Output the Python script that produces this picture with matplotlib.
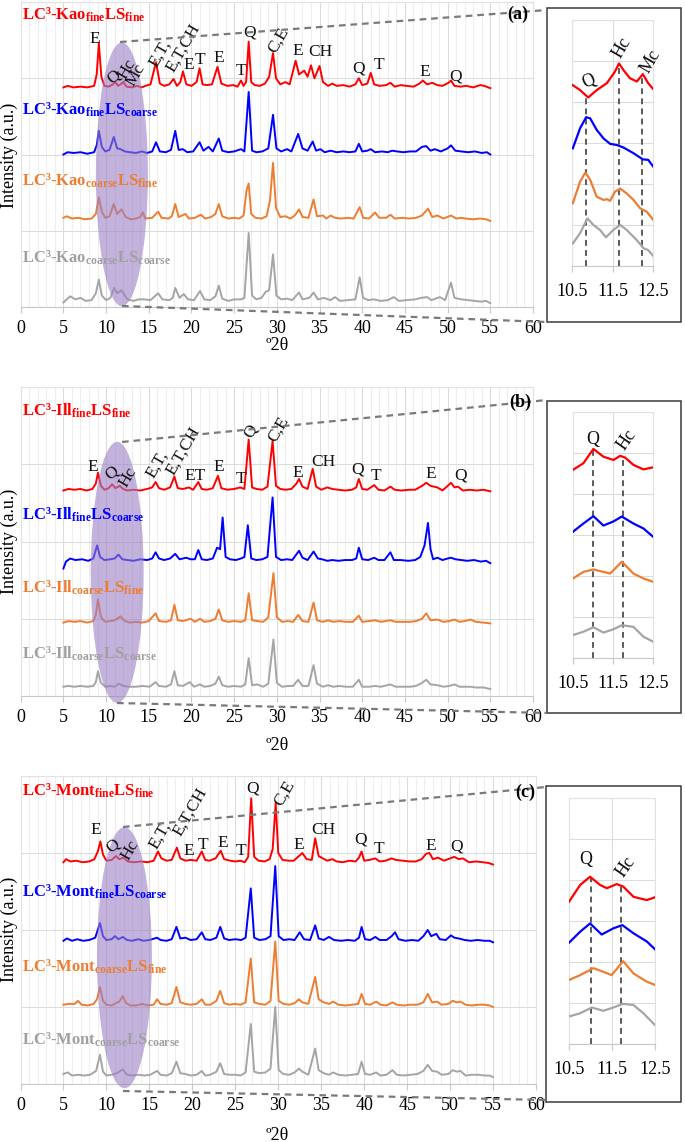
import numpy as np
import matplotlib
matplotlib.use("Agg")
import matplotlib.pyplot as plt
from matplotlib.patches import Ellipse, Rectangle
from matplotlib.lines import Line2D

plt.rcParams['font.family'] = ['Liberation Serif', 'DejaVu Serif']
plt.rcParams['mathtext.fontset'] = 'custom'
plt.rcParams['mathtext.rm'] = 'Liberation Serif'
plt.rcParams['mathtext.bf'] = 'Liberation Serif:bold'
plt.rcParams['mathtext.it'] = 'Liberation Serif:italic'

# ---------------- DATA ----------------
# Main XRD patterns: (2theta, offset intensity) vertices
kao_fine_fine = [(5.0,2.88),(5.5,2.90),(6.2,2.88),(7.0,2.89),(7.8,2.88),(8.6,2.90),(8.9,3.05),(9.15,3.46),(9.45,3.02),(9.8,2.90),(10.3,2.89),(10.8,2.92),(11.1,2.95),(11.4,2.90),(11.7,2.92),(12.0,2.95),(12.4,2.89),(13.0,2.88),(13.6,2.90),(14.2,2.88),(14.6,2.90),(15.2,2.92),(15.85,3.21),(16.3,2.93),(16.8,2.90),(17.4,2.92),(17.9,2.99),(18.3,2.90),(18.7,2.95),(19.0,3.09),(19.4,2.92),(20.0,2.90),(20.6,2.95),(20.95,3.13),(21.3,2.92),(21.8,2.91),(22.4,2.92),(23.05,3.15),(23.5,2.93),(24.2,2.90),(24.9,2.91),(25.4,2.89),(25.8,2.97),(26.1,2.90),(26.4,2.95),(26.7,3.48),(27.0,2.95),(27.4,2.91),(28.0,2.90),(28.6,2.93),(29.1,3.02),(29.55,3.33),(29.9,3.00),(30.4,2.92),(31.0,2.95),(31.5,2.92),(32.2,3.23),(32.6,3.05),(33.2,3.10),(33.6,3.02),(34.0,3.17),(34.4,3.00),(35.0,3.16),(35.4,2.95),(36.0,2.90),(36.5,2.93),(37.0,2.90),(37.8,2.91),(38.5,2.89),(39.2,2.92),(39.6,3.00),(40.0,2.91),(40.6,2.93),(41.0,3.07),(41.4,2.92),(42.0,2.90),(42.8,2.91),(43.3,2.94),(43.8,2.89),(44.5,2.91),(45.2,2.90),(46.0,2.89),(46.7,2.93),(47.1,2.97),(47.6,2.92),(48.2,2.94),(48.8,2.91),(49.4,2.90),(50.1,2.94),(50.4,2.97),(50.8,2.90),(51.5,2.89),(52.2,2.90),(53.0,2.88),(53.8,2.91),(54.3,2.90),(55.0,2.87)]
kao_fine_coarse = [(5.0,2.00),(5.5,2.03),(6.2,2.02),(7.0,2.03),(7.8,2.01),(8.6,2.03),(8.9,2.12),(9.15,2.31),(9.5,2.10),(9.9,2.04),(10.4,2.06),(10.9,2.23),(11.3,2.08),(11.7,2.07),(12.2,2.04),(12.8,2.03),(13.5,2.02),(14.2,2.04),(14.8,2.02),(15.4,2.04),(15.85,2.16),(16.3,2.04),(17.0,2.03),(17.6,2.06),(18.1,2.31),(18.5,2.06),(19.0,2.07),(19.5,2.03),(20.2,2.04),(20.95,2.16),(21.4,2.05),(22.0,2.10),(22.5,2.04),(23.2,2.21),(23.6,2.05),(24.3,2.03),(25.0,2.04),(25.8,2.07),(26.2,2.04),(26.7,2.82),(27.1,2.05),(27.6,2.03),(28.3,2.04),(29.0,2.08),(29.55,2.52),(29.95,2.08),(30.5,2.04),(31.2,2.07),(31.7,2.04),(32.5,2.27),(33.0,2.08),(33.6,2.05),(34.2,2.17),(34.6,2.05),(35.1,2.07),(35.6,2.03),(36.3,2.05),(37.0,2.03),(37.8,2.04),(38.5,2.03),(39.2,2.04),(39.6,2.14),(40.0,2.04),(40.6,2.05),(41.0,2.07),(41.5,2.03),(42.3,2.04),(43.0,2.03),(43.5,2.05),(44.1,2.04),(44.8,2.03),(45.6,2.04),(46.3,2.04),(47.0,2.10),(47.5,2.11),(48.0,2.05),(48.5,2.07),(49.2,2.04),(50.0,2.08),(50.4,2.12),(50.9,2.05),(51.6,2.04),(52.4,2.03),(53.2,2.04),(54.0,2.02),(54.6,2.03),(55.0,2.00)]
kao_coarse_fine = [(5.0,1.17),(5.4,1.19),(6.0,1.16),(6.8,1.17),(7.5,1.15),(8.3,1.16),(8.8,1.22),(9.15,1.44),(9.5,1.25),(9.9,1.17),(10.4,1.19),(10.9,1.35),(11.3,1.22),(11.8,1.28),(12.3,1.18),(12.9,1.15),(13.5,1.16),(14.0,1.18),(14.3,1.24),(14.6,1.16),(15.4,1.17),(16.1,1.25),(16.5,1.17),(17.3,1.16),(17.7,1.19),(18.1,1.35),(18.5,1.18),(19.3,1.22),(19.7,1.16),(20.4,1.17),(21.1,1.21),(21.6,1.16),(22.3,1.18),(22.8,1.22),(23.2,1.35),(23.6,1.19),(24.3,1.16),(25.0,1.17),(25.6,1.16),(26.1,1.20),(26.45,1.53),(26.7,1.62),(27.0,1.22),(27.5,1.17),(28.2,1.16),(28.8,1.19),(29.2,1.40),(29.55,1.89),(29.9,1.30),(30.4,1.18),(31.0,1.19),(31.6,1.16),(32.1,1.20),(32.6,1.28),(33.0,1.18),(33.7,1.17),(34.3,1.41),(34.7,1.19),(35.4,1.20),(35.8,1.16),(36.3,1.20),(36.8,1.17),(37.5,1.16),(38.3,1.17),(39.0,1.16),(39.7,1.31),(40.1,1.17),(40.8,1.16),(41.5,1.24),(42.0,1.17),(42.8,1.17),(43.3,1.21),(43.8,1.16),(44.7,1.17),(45.5,1.16),(46.3,1.17),(47.0,1.20),(47.7,1.29),(48.2,1.18),(48.8,1.20),(49.5,1.16),(50.4,1.20),(51.0,1.16),(51.6,1.17),(52.1,1.16),(53.0,1.15),(53.8,1.16),(54.5,1.15),(55.0,1.13)]
kao_coarse_coarse = [(5.0,0.06),(5.4,0.10),(5.8,0.14),(6.4,0.10),(7.0,0.12),(7.6,0.08),(8.3,0.09),(8.8,0.18),(9.15,0.36),(9.5,0.15),(10.0,0.09),(10.5,0.12),(10.95,0.25),(11.3,0.18),(11.8,0.22),(12.5,0.10),(13.2,0.08),(13.8,0.10),(14.5,0.10),(15.2,0.09),(16.1,0.18),(16.6,0.10),(17.4,0.09),(17.8,0.12),(18.1,0.25),(18.6,0.12),(19.1,0.17),(19.6,0.10),(20.3,0.09),(21.0,0.21),(21.5,0.10),(22.2,0.09),(22.8,0.14),(23.2,0.28),(23.6,0.11),(24.3,0.08),(25.0,0.10),(25.8,0.10),(26.2,0.12),(26.7,0.97),(27.1,0.15),(27.6,0.10),(28.2,0.12),(28.7,0.20),(29.1,0.22),(29.55,0.69),(29.95,0.15),(30.5,0.10),(31.2,0.11),(31.8,0.09),(32.6,0.19),(33.0,0.10),(33.8,0.12),(34.3,0.19),(34.8,0.10),(35.5,0.12),(36.3,0.09),(36.8,0.13),(37.4,0.08),(38.3,0.09),(39.2,0.10),(39.7,0.39),(40.1,0.12),(40.7,0.09),(41.3,0.10),(42.2,0.08),(43.0,0.09),(43.7,0.13),(44.3,0.08),(45.2,0.09),(46.2,0.10),(46.9,0.12),(47.6,0.13),(48.1,0.09),(49.1,0.13),(49.7,0.09),(50.4,0.32),(50.8,0.12),(51.6,0.10),(52.4,0.09),(53.2,0.08),(53.9,0.07),(54.5,0.08),(55.0,0.05)]

ill_fine_fine = [(5.0,2.66),(5.6,2.68),(6.3,2.67),(7.0,2.68),(7.7,2.66),(8.4,2.68),(8.8,2.75),(9.05,2.89),(9.4,2.72),(9.8,2.67),(10.3,2.69),(10.7,2.74),(11.1,2.69),(11.6,2.72),(12.0,2.68),(12.5,2.66),(13.2,2.67),(14.0,2.66),(14.8,2.68),(15.4,2.70),(15.8,2.77),(16.2,2.69),(16.8,2.67),(17.5,2.70),(18.0,2.84),(18.4,2.69),(19.0,2.68),(19.7,2.70),(20.2,2.67),(20.8,2.77),(21.2,2.68),(21.8,2.67),(22.5,2.69),(23.1,2.85),(23.5,2.69),(24.2,2.67),(25.0,2.68),(25.7,2.70),(26.2,2.68),(26.7,3.32),(27.1,2.70),(27.6,2.68),(28.3,2.67),(28.9,2.71),(29.5,3.30),(29.9,2.72),(30.4,2.68),(31.0,2.67),(31.7,2.68),(32.3,2.75),(32.6,2.81),(33.0,2.71),(33.6,2.68),(34.2,2.94),(34.6,2.71),(35.2,2.67),(35.9,2.70),(36.5,2.68),(37.2,2.67),(38.0,2.66),(38.8,2.67),(39.3,2.70),(39.6,2.81),(40.0,2.68),(40.6,2.67),(41.4,2.73),(41.9,2.67),(42.6,2.66),(43.3,2.71),(43.8,2.67),(44.6,2.66),(45.5,2.67),(46.2,2.67),(47.0,2.72),(47.5,2.76),(48.0,2.72),(48.8,2.70),(49.4,2.66),(50.0,2.72),(50.4,2.76),(50.8,2.70),(51.2,2.71),(51.8,2.66),(52.6,2.67),(53.4,2.66),(54.2,2.67),(55.0,2.65)]
ill_fine_coarse = [(5.0,1.65),(5.3,1.74),(5.8,1.78),(6.4,1.76),(7.2,1.77),(7.9,1.75),(8.5,1.78),(8.95,1.95),(9.3,1.80),(9.8,1.76),(10.5,1.77),(11.0,1.78),(11.45,1.83),(11.9,1.77),(12.5,1.76),(13.2,1.75),(14.0,1.77),(14.8,1.76),(15.4,1.78),(15.8,1.86),(16.2,1.78),(16.8,1.76),(17.5,1.78),(18.1,1.84),(18.6,1.77),(19.4,1.79),(19.9,1.77),(20.4,1.77),(20.8,1.89),(21.2,1.77),(21.8,1.76),(22.5,1.78),(23.0,1.92),(23.35,1.90),(23.65,2.31),(24.0,1.80),(24.5,1.77),(25.2,1.76),(25.8,1.78),(26.2,1.80),(26.6,2.21),(27.0,1.78),(27.6,1.76),(28.3,1.77),(28.9,1.80),(29.5,2.57),(29.9,1.80),(30.5,1.76),(31.2,1.77),(31.8,1.76),(32.6,1.88),(33.0,1.79),(33.6,1.76),(34.3,1.87),(34.8,1.78),(35.3,1.77),(35.9,1.75),(36.5,1.76),(37.2,1.75),(38.0,1.76),(38.8,1.76),(39.3,1.78),(39.6,1.92),(40.0,1.77),(40.7,1.76),(41.4,1.79),(41.9,1.76),(42.6,1.76),(43.3,1.86),(43.7,1.76),(44.5,1.76),(45.4,1.75),(46.2,1.76),(46.8,1.80),(47.3,1.95),(47.7,2.24),(48.0,1.90),(48.3,1.77),(48.8,1.79),(49.4,1.76),(50.0,1.78),(50.4,1.79),(50.9,1.77),(51.6,1.76),(52.3,1.75),(53.1,1.76),(53.9,1.74),(54.5,1.75),(55.0,1.72)]
ill_coarse_fine = [(5.0,0.95),(5.6,0.97),(6.3,0.96),(7.0,0.97),(7.8,0.95),(8.5,0.97),(8.8,1.05),(9.05,1.25),(9.4,1.02),(9.9,0.96),(10.5,0.97),(11.0,0.98),(11.7,1.03),(12.2,0.97),(12.8,0.95),(13.5,0.96),(14.2,0.95),(15.0,0.97),(15.8,1.07),(16.2,0.97),(17.0,0.96),(17.6,0.98),(18.0,1.18),(18.4,0.98),(19.0,0.97),(19.9,1.00),(20.4,0.96),(21.0,1.00),(21.5,0.96),(22.2,0.97),(22.8,1.00),(23.2,1.12),(23.6,0.98),(24.3,0.96),(25.0,0.97),(25.8,0.96),(26.3,0.98),(26.7,1.33),(27.1,0.98),(27.7,0.97),(28.4,0.96),(29.0,1.02),(29.6,1.59),(30.0,1.02),(30.6,0.96),(31.3,0.97),(31.9,0.96),(32.5,1.05),(33.0,0.97),(33.7,0.96),(34.3,1.21),(34.7,0.98),(35.4,0.96),(36.0,0.98),(36.6,0.96),(37.3,0.97),(38.1,0.96),(38.9,0.96),(39.6,1.04),(40.0,0.96),(40.8,0.97),(41.5,0.98),(42.2,0.96),(43.3,0.98),(43.9,0.96),(44.7,0.96),(45.6,0.96),(46.3,0.97),(47.0,1.00),(47.5,1.07),(48.0,0.98),(48.8,0.99),(49.5,0.96),(50.2,0.97),(50.8,0.99),(51.4,0.96),(52.0,0.97),(52.7,0.99),(53.3,0.96),(54.2,0.95),(55.0,0.94)]
ill_coarse_coarse = [(5.0,0.12),(5.6,0.13),(6.3,0.12),(7.0,0.13),(7.8,0.12),(8.5,0.13),(8.8,0.18),(9.05,0.32),(9.4,0.17),(9.9,0.12),(10.5,0.13),(11.0,0.12),(11.5,0.16),(12.0,0.13),(12.7,0.12),(13.5,0.12),(14.3,0.13),(15.1,0.12),(15.8,0.18),(16.2,0.13),(17.0,0.12),(17.6,0.15),(18.0,0.32),(18.4,0.14),(19.0,0.13),(19.8,0.18),(20.3,0.12),(21.0,0.15),(21.5,0.12),(22.2,0.13),(22.8,0.16),(23.2,0.25),(23.6,0.14),(24.3,0.12),(25.0,0.13),(25.8,0.12),(26.3,0.15),(26.7,0.49),(27.1,0.14),(27.7,0.15),(28.4,0.12),(29.0,0.16),(29.6,0.73),(30.0,0.17),(30.6,0.12),(31.3,0.13),(31.9,0.13),(32.5,0.21),(33.0,0.13),(33.7,0.13),(34.3,0.40),(34.7,0.16),(35.4,0.12),(36.0,0.14),(36.6,0.12),(37.3,0.13),(38.1,0.12),(38.9,0.12),(39.6,0.21),(40.0,0.12),(40.8,0.12),(41.5,0.13),(42.2,0.12),(43.3,0.15),(43.9,0.12),(44.7,0.12),(45.6,0.12),(46.3,0.13),(47.0,0.17),(47.5,0.21),(48.0,0.15),(48.8,0.14),(49.5,0.12),(50.2,0.13),(50.8,0.15),(51.4,0.12),(52.0,0.12),(52.7,0.12),(53.3,0.11),(54.2,0.11),(55.0,0.09)]

mont_fine_fine = [(5.0,2.88),(5.3,2.92),(5.8,2.89),(6.5,2.90),(7.2,2.88),(8.0,2.89),(8.6,2.92),(9.0,3.02),(9.3,3.15),(9.6,2.98),(10.0,2.90),(10.6,2.91),(11.1,2.96),(11.5,2.92),(12.0,2.94),(12.5,2.89),(13.2,2.88),(14.0,2.89),(14.8,2.88),(15.5,2.90),(16.0,3.02),(16.4,2.93),(17.0,2.90),(17.6,2.91),(18.2,3.07),(18.6,2.93),(19.2,2.90),(19.8,2.91),(20.5,2.90),(21.1,3.02),(21.5,2.91),(22.0,2.90),(22.7,2.93),(23.3,3.03),(23.7,2.92),(24.4,2.90),(25.0,2.89),(25.6,2.90),(26.1,2.88),(26.5,2.95),(26.85,3.71),(27.2,2.95),(27.7,2.90),(28.4,2.89),(29.0,2.92),(29.35,3.05),(29.7,3.65),(30.0,3.00),(30.5,2.91),(31.2,2.90),(31.8,2.90),(32.4,2.96),(32.8,3.00),(33.3,2.92),(33.9,2.91),(34.3,3.19),(34.7,2.96),(35.2,2.93),(35.7,2.90),(36.3,2.92),(36.8,2.89),(37.5,2.88),(38.3,2.90),(39.0,2.89),(39.4,2.94),(39.7,3.02),(40.0,2.90),(40.6,2.91),(41.3,2.93),(41.8,2.89),(42.5,2.90),(43.2,2.93),(43.7,2.91),(44.5,2.90),(45.3,2.89),(46.0,2.89),(46.7,2.92),(47.2,2.99),(47.6,3.00),(48.0,2.92),(48.6,2.94),(49.3,2.90),(50.0,2.93),(50.5,2.95),(51.0,2.92),(51.5,2.93),(52.2,2.88),(53.0,2.89),(53.8,2.88),(54.5,2.87),(55.0,2.85)]
mont_fine_coarse = [(5.0,1.86),(5.4,1.89),(6.0,1.86),(6.6,1.88),(7.3,1.86),(8.0,1.87),(8.7,1.90),(9.25,2.09),(9.6,1.92),(10.0,1.87),(10.6,1.88),(11.0,1.92),(11.4,1.88),(11.9,1.91),(12.4,1.87),(13.0,1.86),(13.7,1.88),(14.3,1.86),(15.0,1.87),(15.9,1.90),(16.3,1.87),(17.0,1.86),(17.6,1.88),(18.15,2.04),(18.6,1.89),(19.2,1.90),(19.8,1.87),(20.5,1.88),(21.1,1.97),(21.5,1.88),(22.1,1.87),(22.8,1.90),(23.25,2.04),(23.7,1.89),(24.3,1.87),(25.0,1.88),(25.7,1.87),(26.2,1.90),(26.8,2.54),(27.2,1.90),(27.8,1.87),(28.5,1.88),(29.1,1.92),(29.65,2.83),(30.05,1.92),(30.6,1.87),(31.3,1.88),(31.9,1.87),(32.5,1.97),(33.0,1.88),(33.7,1.87),(34.3,2.06),(34.7,1.89),(35.3,1.87),(35.9,1.91),(36.5,1.87),(37.3,1.86),(38.1,1.87),(38.9,1.86),(39.4,1.90),(39.7,2.04),(40.1,1.88),(40.7,1.87),(41.3,1.91),(41.8,1.87),(42.6,1.87),(43.2,1.92),(43.6,1.97),(44.0,1.88),(44.8,1.86),(45.6,1.87),(46.3,1.86),(46.9,1.92),(47.4,2.00),(47.8,1.92),(48.4,1.95),(48.8,1.88),(49.5,1.87),(50.1,1.93),(50.5,1.90),(51.0,1.89),(51.7,1.87),(52.4,1.86),(53.2,1.87),(54.0,1.86),(54.6,1.86),(55.0,1.84)]
mont_coarse_fine = [(5.0,1.03),(5.6,1.04),(6.3,1.04),(6.7,1.08),(7.1,1.03),(7.8,1.02),(8.5,1.04),(8.9,1.10),(9.25,1.26),(9.6,1.08),(10.0,1.03),(10.6,1.02),(11.1,1.05),(11.5,1.07),(11.9,1.14),(12.3,1.05),(12.8,1.02),(13.5,1.02),(14.2,1.04),(14.8,1.02),(15.5,1.03),(15.9,1.10),(16.3,1.04),(17.0,1.03),(17.6,1.05),(18.15,1.26),(18.6,1.06),(19.2,1.04),(19.8,1.03),(20.5,1.04),(21.1,1.10),(21.5,1.03),(22.1,1.03),(22.8,1.08),(23.25,1.21),(23.7,1.05),(24.3,1.03),(25.0,1.04),(25.6,1.03),(26.2,1.06),(26.8,1.63),(27.2,1.06),(27.8,1.04),(28.5,1.03),(29.1,1.08),(29.65,1.85),(30.05,1.08),(30.6,1.04),(31.3,1.03),(31.9,1.05),(32.4,1.10),(32.8,1.06),(33.5,1.04),(34.3,1.39),(34.7,1.10),(35.3,1.06),(35.9,1.04),(36.4,1.07),(37.0,1.03),(37.8,1.02),(38.6,1.03),(39.3,1.04),(39.7,1.17),(40.1,1.04),(40.7,1.03),(41.4,1.07),(41.9,1.03),(42.6,1.02),(43.3,1.06),(43.8,1.03),(44.6,1.02),(45.4,1.03),(46.2,1.03),(46.9,1.06),(47.4,1.17),(47.9,1.06),(48.5,1.07),(49.0,1.03),(49.8,1.04),(50.3,1.08),(50.8,1.06),(51.2,1.07),(51.8,1.03),(52.5,1.02),(53.3,1.03),(54.0,1.03),(54.6,1.02),(55.0,1.00)]
mont_coarse_coarse = [(5.0,0.13),(5.5,0.15),(6.0,0.11),(6.7,0.12),(7.4,0.11),(8.1,0.12),(8.8,0.17),(9.25,0.38),(9.6,0.16),(10.0,0.11),(10.6,0.12),(11.2,0.14),(11.9,0.19),(12.4,0.12),(13.0,0.11),(13.7,0.12),(14.4,0.11),(15.1,0.12),(15.9,0.17),(16.3,0.12),(17.0,0.11),(17.6,0.14),(18.15,0.29),(18.6,0.14),(19.2,0.13),(19.8,0.11),(20.5,0.12),(21.1,0.17),(21.5,0.11),(22.1,0.12),(22.8,0.16),(23.25,0.27),(23.7,0.13),(24.3,0.12),(25.0,0.12),(25.6,0.11),(26.2,0.15),(26.8,0.78),(27.2,0.16),(27.8,0.14),(28.5,0.15),(29.1,0.20),(29.65,1.00),(30.05,0.18),(30.6,0.13),(31.3,0.12),(31.9,0.15),(32.4,0.20),(32.8,0.16),(33.5,0.12),(34.3,0.46),(34.7,0.18),(35.3,0.14),(35.9,0.12),(36.4,0.15),(37.0,0.12),(37.8,0.11),(38.6,0.12),(39.3,0.13),(39.7,0.29),(40.1,0.13),(40.7,0.12),(41.4,0.15),(41.9,0.11),(42.6,0.12),(43.3,0.18),(43.8,0.12),(44.6,0.11),(45.4,0.12),(46.2,0.13),(46.9,0.17),(47.4,0.25),(47.9,0.17),(48.5,0.16),(49.0,0.12),(49.8,0.13),(50.3,0.18),(50.8,0.16),(51.2,0.17),(51.8,0.11),(52.5,0.12),(53.3,0.12),(54.0,0.11),(54.6,0.11),(55.0,0.09)]

# Zoomed 10.5-12.5 patterns (insets)
kao_zoom_ff = [(10.52,4.41),(10.70,4.29),(10.90,4.11),(11.11,4.29),(11.36,4.46),(11.56,4.74),(11.66,4.94),(11.77,4.78),(11.93,4.58),(12.10,4.50),(12.25,4.68),(12.38,4.46),(12.51,4.31)]
kao_zoom_fc = [(10.52,2.87),(10.70,3.36),(10.85,3.63),(10.95,3.60),(11.11,3.32),(11.28,3.11),(11.44,2.98),(11.61,2.95),(11.77,2.89),(12.02,2.75),(12.25,2.60),(12.38,2.59),(12.51,2.42)]
kao_zoom_cf = [(10.52,1.53),(10.70,2.06),(10.83,2.28),(10.95,2.10),(11.11,1.69),(11.28,1.61),(11.36,1.63),(11.44,1.59),(11.56,1.81),(11.69,1.89),(11.85,1.77),(12.02,1.61),(12.18,1.41),(12.35,1.32),(12.51,1.12)]
kao_zoom_cc = [(10.52,0.55),(10.70,0.80),(10.88,1.16),(11.03,1.00),(11.19,0.88),(11.34,0.70),(11.52,0.88),(11.69,1.00),(11.85,0.88),(12.10,0.63),(12.27,0.43),(12.38,0.39),(12.51,0.24)]

ill_zoom_ff = [(10.5,4.59),(10.76,4.75),(11.01,5.10),(11.26,4.91),(11.51,4.83),(11.68,4.93),(11.80,4.89),(12.01,4.71),(12.26,4.60),(12.5,4.65)]
ill_zoom_fc = [(10.5,3.08),(10.76,3.28),(11.01,3.46),(11.26,3.23),(11.51,3.33),(11.72,3.45),(12.01,3.28),(12.26,3.16),(12.5,2.96)]
ill_zoom_cf = [(10.5,1.94),(10.76,2.10),(11.01,2.16),(11.26,2.10),(11.43,2.06),(11.72,2.35),(12.01,2.06),(12.26,1.94),(12.5,1.86)]
ill_zoom_cc = [(10.5,0.56),(10.76,0.64),(11.01,0.75),(11.26,0.62),(11.51,0.70),(11.72,0.80),(12.01,0.76),(12.26,0.52),(12.5,0.40)]

mont_zoom_ff = [(10.5,3.47),(10.76,3.88),(10.99,4.08),(11.22,3.88),(11.38,3.80),(11.61,3.90),(11.76,3.84),(12.0,3.59),(12.31,3.51),(12.5,3.58)]
mont_zoom_fc = [(10.5,2.47),(10.76,2.74),(10.99,2.94),(11.26,2.67),(11.53,2.82),(11.74,2.90),(12.0,2.70),(12.31,2.50),(12.5,2.31)]
mont_zoom_cf = [(10.5,1.56),(10.76,1.68),(11.07,1.85),(11.30,1.76),(11.49,1.68),(11.76,2.02),(12.0,1.72),(12.31,1.52),(12.5,1.44)]
mont_zoom_cc = [(10.5,0.67),(10.76,0.75),(11.03,0.89),(11.30,0.81),(11.53,0.89),(11.76,0.98),(12.0,0.95),(12.23,0.75),(12.5,0.46)]

sample_names = {
    'a': ["LC³-Kao$_{\\mathbf{fine}}$LS$_{\\mathbf{fine}}$", "LC³-Kao$_{\\mathbf{fine}}$LS$_{\\mathbf{coarse}}$",
          "LC³-Kao$_{\\mathbf{coarse}}$LS$_{\\mathbf{fine}}$", "LC³-Kao$_{\\mathbf{coarse}}$LS$_{\\mathbf{coarse}}$"],
    'b': ["LC³-Ill$_{\\mathbf{fine}}$LS$_{\\mathbf{fine}}$", "LC³-Ill$_{\\mathbf{fine}}$LS$_{\\mathbf{coarse}}$",
          "LC³-Ill$_{\\mathbf{coarse}}$LS$_{\\mathbf{fine}}$", "LC³-Ill$_{\\mathbf{coarse}}$LS$_{\\mathbf{coarse}}$"],
    'c': ["LC³-Mont$_{\\mathbf{fine}}$LS$_{\\mathbf{fine}}$", "LC³-Mont$_{\\mathbf{fine}}$LS$_{\\mathbf{coarse}}$",
          "LC³-Mont$_{\\mathbf{coarse}}$LS$_{\\mathbf{fine}}$", "LC³-Mont$_{\\mathbf{coarse}}$LS$_{\\mathbf{coarse}}$"],
}
main_ticks = [0, 5, 10, 15, 20, 25, 30, 35, 40, 45, 50, 55, 60]
inset_ticks = [10.5, 11.5, 12.5]

# phase labels: (text, x, y, rotation)
phase_a = [("E", 8.7, 3.52, 0), ("Q", 10.9, 3.02, 40), ("Hc", 12.5, 3.12, 60), ("Mc", 13.5, 3.04, 60),
           ("E,T,", 16.3, 3.32, 60), ("E,T,CH", 19.0, 3.40, 60), ("E", 19.7, 3.17, 0), ("T", 21.0, 3.24, 0),
           ("E", 23.2, 3.26, 0), ("T", 25.8, 3.10, 0), ("Q", 26.8, 3.60, 0), ("C,E", 30.2, 3.50, 60),
           ("E", 32.4, 3.36, 0), ("CH", 35.1, 3.34, 0), ("Q", 39.6, 3.13, 0), ("T", 42.0, 3.17, 0),
           ("E", 47.3, 3.08, 0), ("Q", 50.9, 3.02, 0)]
phase_b = [("E", 8.45, 2.97, 0), ("Q", 10.7, 2.89, 40), ("Hc", 12.6, 2.83, 60), ("E,T,", 16.0, 3.00, 60),
           ("E,T,CH", 19.0, 3.17, 60), ("ET", 20.45, 2.85, 0), ("E", 23.2, 2.96, 0), ("T", 25.8, 2.81, 0),
           ("Q", 26.9, 3.43, 60), ("C,E", 30.2, 3.45, 60), ("E", 32.5, 2.89, 0), ("CH", 35.5, 3.03, 0),
           ("Q", 39.5, 2.93, 0), ("T", 41.6, 2.85, 0), ("E", 48.0, 2.87, 0), ("Q", 51.5, 2.85, 0)]
phase_c = [("E", 8.8, 3.30, 0), ("Q", 10.8, 3.09, 40), ("Hc", 12.7, 3.03, 60), ("E,T,", 16.2, 3.23, 60),
           ("E,T,CH", 19.8, 3.54, 60), ("E", 19.6, 3.02, 0), ("T", 21.2, 3.10, 0), ("E", 23.6, 3.13, 0),
           ("T", 25.7, 3.02, 0), ("Q", 27.0, 3.84, 0), ("C,E", 30.7, 3.78, 60), ("E", 32.4, 3.10, 0),
           ("CH", 35.3, 3.30, 0), ("Q", 39.6, 3.17, 0), ("T", 41.7, 3.05, 0), ("E", 47.7, 3.09, 0),
           ("Q", 50.8, 3.09, 0)]
# inset labels: (text, x, y, rotation) and dashed marker positions
inset_lab_a = [("Q", 10.92, 4.50, 25), ("Hc", 11.72, 5.32, 60), ("Mc", 12.45, 5.0, 60)]
inset_mark_a = [10.85, 11.66, 12.22]
inset_lab_b = [("Q", 11.0, 5.34, 0), ("Hc", 11.85, 5.32, 55)]
inset_mark_b = [11.0, 11.75]
inset_lab_c = [("Q", 10.9, 4.49, 0), ("Hc", 11.82, 4.33, 55)]
inset_mark_c = [11.0, 11.71]

# ---------------- STYLE / LAYOUT ----------------
W, H = 685, 1142
colors = ['#ff0000', '#0000ff', '#ed7d31', '#a5a5a5']
label_colors = ['#ff0000', '#0000ff', '#ed7d31', '#a0a0a0']
GRID = '#dcdcdc'
GRID_MINOR = '#eeeeee'
DASH = '#7a7a7a'

fig = plt.figure(figsize=(W / 100, H / 100), dpi=100)


def frect(l, t, r, b):
    return [l / W, 1 - b / H, (r - l) / W, (b - t) / H]


def fx(px):
    return px / W


def fy(py):
    return 1 - py / H


def style_axes(ax):
    for s in ax.spines.values():
        s.set_color('#e2e2e2')
        s.set_linewidth(0.8)
    ax.spines['bottom'].set_color('#c8c8c8')
    ax.set_axisbelow(True)
    ax.tick_params(axis='y', length=0, labelleft=False)
    ax.tick_params(axis='x', which='major', length=4, color='#c8c8c8', labelsize=13, pad=5)
    ax.tick_params(axis='x', which='minor', length=0)


def main_panel(rect, traces, names, name_y, phases, ell, ylab_y, xlab_y):
    ax = fig.add_axes(frect(*rect))
    ax.set_xlim(0, 60)
    ax.set_ylim(0, 4)
    ax.set_xticks(main_ticks)
    ax.set_xticks(np.arange(0, 61, 1), minor=True)
    ax.set_yticks([0, 1, 2, 3, 4])
    ax.grid(which='minor', axis='x', color=GRID_MINOR, lw=0.8)
    ax.grid(which='major', axis='x', color=GRID, lw=0.8)
    ax.grid(which='major', axis='y', color=GRID, lw=0.8)
    style_axes(ax)
    for tr, c in zip(traces, colors):
        x, y = np.array(tr).T
        ax.plot(x, y, color=c, lw=1.4, zorder=2)
    for nm, ny, lc in zip(names, name_y, label_colors):
        ax.text(0.15, ny, nm, color=lc, fontsize=12, fontweight='bold', ha='left', va='center', zorder=5)
    for t, x, y, r in phases:
        ax.text(x, y, t, fontsize=12.5, ha='center', va='center', rotation=r, color='#111111', zorder=4)
    cx, cy, w, h = ell
    ax.add_patch(Ellipse((cx, cy), w, h, facecolor='#9b7fc5', edgecolor='none', alpha=0.6,
                         zorder=3, clip_on=False))
    fig.text(fx(9), fy(ylab_y), 'Intensity (a.u.)', rotation=90, fontsize=13, ha='center', va='center')
    fig.text(fx(277), fy(xlab_y), 'º2θ', fontsize=13, ha='center', va='center')
    return ax


def inset_panel(rect, box, traces, labs, marks):
    l, t, r, b = box
    fig.add_artist(Rectangle((fx(l), fy(b)), fx(r) - fx(l), fy(t) - fy(b), transform=fig.transFigure,
                             facecolor='none', edgecolor='#3a3a3a', lw=1.1))
    ax = fig.add_axes(frect(*rect))
    ax.set_xlim(10.5, 12.5)
    ax.set_ylim(0, 6)
    ax.set_xticks(inset_ticks)
    ax.set_xticklabels(['10.5', '11.5', '12.5'])
    ax.set_yticks(np.arange(0, 7, 1))
    ax.grid(which='major', color=GRID, lw=0.8)
    style_axes(ax)
    ax.tick_params(axis='x', which='major', pad=8)
    for tr, c in zip(traces, colors):
        x, y = np.array(tr).T
        ax.plot(x, y, color=c, lw=1.6, zorder=3)
    rx, ry = np.array(traces[0]).T
    for m in marks:
        top = np.interp(m, rx, ry)
        ax.plot([m, m], [0, top], color='#5a5a5a', lw=1.4, ls=(0, (3, 2.2)), zorder=2)
    for tt, x, y, rot in labs:
        ax.text(x, y, tt, fontsize=13, ha='center', va='center', rotation=rot, color='#111111', zorder=4)
    return ax


def connector(p0, p1):
    fig.add_artist(Line2D([fx(p0[0]), fx(p1[0])], [fy(p0[1]), fy(p1[1])], transform=fig.transFigure,
                          color=DASH, lw=1.6, ls=(0, (3, 2.2)), zorder=1))


# Panel (a)
main_panel((20.7, 2, 533, 307), [kao_fine_fine, kao_fine_coarse, kao_coarse_fine, kao_coarse_coarse],
           sample_names['a'], [3.83, 2.58, 1.66, 0.64], phase_a, (11.85, 1.74, 6.1, 3.46), 155, 345)
inset_panel((572, 20, 653, 266), (547, 8, 681, 322),
            [kao_zoom_ff, kao_zoom_fc, kao_zoom_cf, kao_zoom_cc], inset_lab_a, inset_mark_a)
connector((120, 42), (547, 10))
connector((122, 306), (547, 322))
fig.text(fx(518), fy(14), '(a)', fontsize=13, fontweight='bold', ha='center', va='center')

# Panel (b)
main_panel((20.7, 387, 533, 696), [ill_fine_fine, ill_fine_coarse, ill_coarse_fine, ill_coarse_coarse],
           sample_names['b'], [3.69, 2.35, 1.40, 0.55], phase_b, (11.3, 1.6, 6.2, 3.38), 541, 745)
inset_panel((573, 412, 653, 658), (547, 401, 681, 713),
            [ill_zoom_ff, ill_zoom_fc, ill_zoom_cf, ill_zoom_cc], inset_lab_b, inset_mark_b)
connector((122, 442), (547, 400))
connector((117, 703), (547, 713))
fig.text(fx(520), fy(402), '(b)', fontsize=13, fontweight='bold', ha='center', va='center')

# Panel (c)
main_panel((20.5, 776, 536, 1084), [mont_fine_fine, mont_fine_coarse, mont_coarse_fine, mont_coarse_coarse],
           sample_names['c'], [3.81, 2.50, 1.52, 0.57], phase_c, (12.1, 1.64, 6.4, 3.39), 929, 1135)
inset_panel((569, 798, 655, 1044), (546, 786, 681, 1102),
            [mont_zoom_ff, mont_zoom_fc, mont_zoom_cf, mont_zoom_cc], inset_lab_c, inset_mark_c)
connector((123, 827), (546, 787))
connector((123, 1091), (546, 1100))
fig.text(fx(525), fy(792), '(c)', fontsize=13, fontweight='bold', ha='center', va='center')

fig.savefig('out.png', dpi=100)
